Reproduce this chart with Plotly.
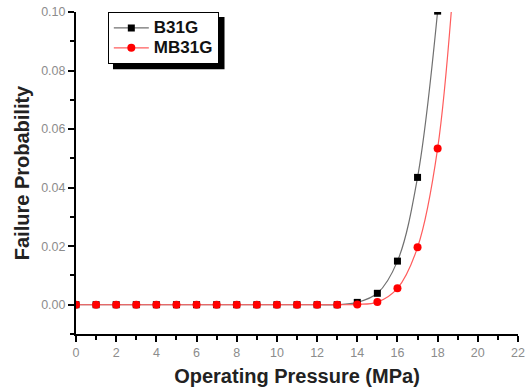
import plotly.graph_objects as go

pressure = list(range(0, 19))
b31g = [0]*14 + [0.0008, 0.0039, 0.0149, 0.0435, 0.1003]
pressure_m = list(range(0, 20))
mb31g = [0]*14 + [0.0001, 0.0009, 0.0056, 0.0196, 0.0534, 0.13]

x_ticks = list(range(0, 23, 2))
y_ticks = [0.00, 0.02, 0.04, 0.06, 0.08, 0.10]

FONT = "Liberation Sans, Arial"

def leg(name):
    return f'<span style="font-size:17px"><b>{name}</b></span>'

fig = go.Figure()
fig.add_trace(go.Scatter(
    x=pressure, y=b31g, name=leg("B31G"), mode="lines+markers",
    line=dict(color="#707070", width=1.2, shape="spline"),
    marker=dict(symbol="square", size=7, color="black"),
))
fig.add_trace(go.Scatter(
    x=pressure_m, y=mb31g, name=leg("MB31G"), mode="lines+markers",
    line=dict(color="#ff5c5c", width=1.2, shape="spline"),
    marker=dict(symbol="circle", size=8, color="red"),
))

axis_common = dict(
    showline=True, linecolor="black", linewidth=2, showgrid=False, zeroline=False,
    ticks="outside", ticklen=6, tickwidth=1.5, tickcolor="black",
    tickfont=dict(family=FONT, size=12.5, color="#8c8c8c"),
    mirror=False, automargin=False,
)
fig.update_xaxes(
    range=[0, 22], tickvals=x_ticks, ticktext=[str(v) for v in x_ticks],
    minor=dict(dtick=1, ticks="outside", ticklen=4, tickcolor="black", tickwidth=1.5),
    title=dict(text="<b>Operating Pressure (MPa)</b>", standoff=10,
               font=dict(family=FONT, size=20, color="#222222")),
    **axis_common,
)
fig.update_yaxes(
    range=[-0.01, 0.10], tickvals=y_ticks, ticktext=[f"{v:.2f}" for v in y_ticks],
    minor=dict(dtick=0.01, ticks="outside", ticklen=4, tickcolor="black", tickwidth=1.5),
    title=dict(text="<b>Failure Probability</b>", standoff=6,
               font=dict(family=FONT, size=20, color="#222222")),
    **axis_common,
)

# legend shadow
fig.add_shape(type="rect", xref="paper", yref="paper",
              x0=0.0837, x1=0.336, y0=0.822, y1=0.9845,
              fillcolor="black", line=dict(width=0), layer="below")

fig.update_layout(
    width=528, height=390,
    margin=dict(l=76, r=10, t=12, b=56),
    paper_bgcolor="white", plot_bgcolor="white",
    legend=dict(x=0.072, y=1.0, xanchor="left", yanchor="top",
                bgcolor="white", bordercolor="black", borderwidth=1,
                font=dict(family=FONT, size=13, color="#111111"),
                itemwidth=35, tracegroupgap=0),
    showlegend=True,
)
fig.write_html("out.html")
